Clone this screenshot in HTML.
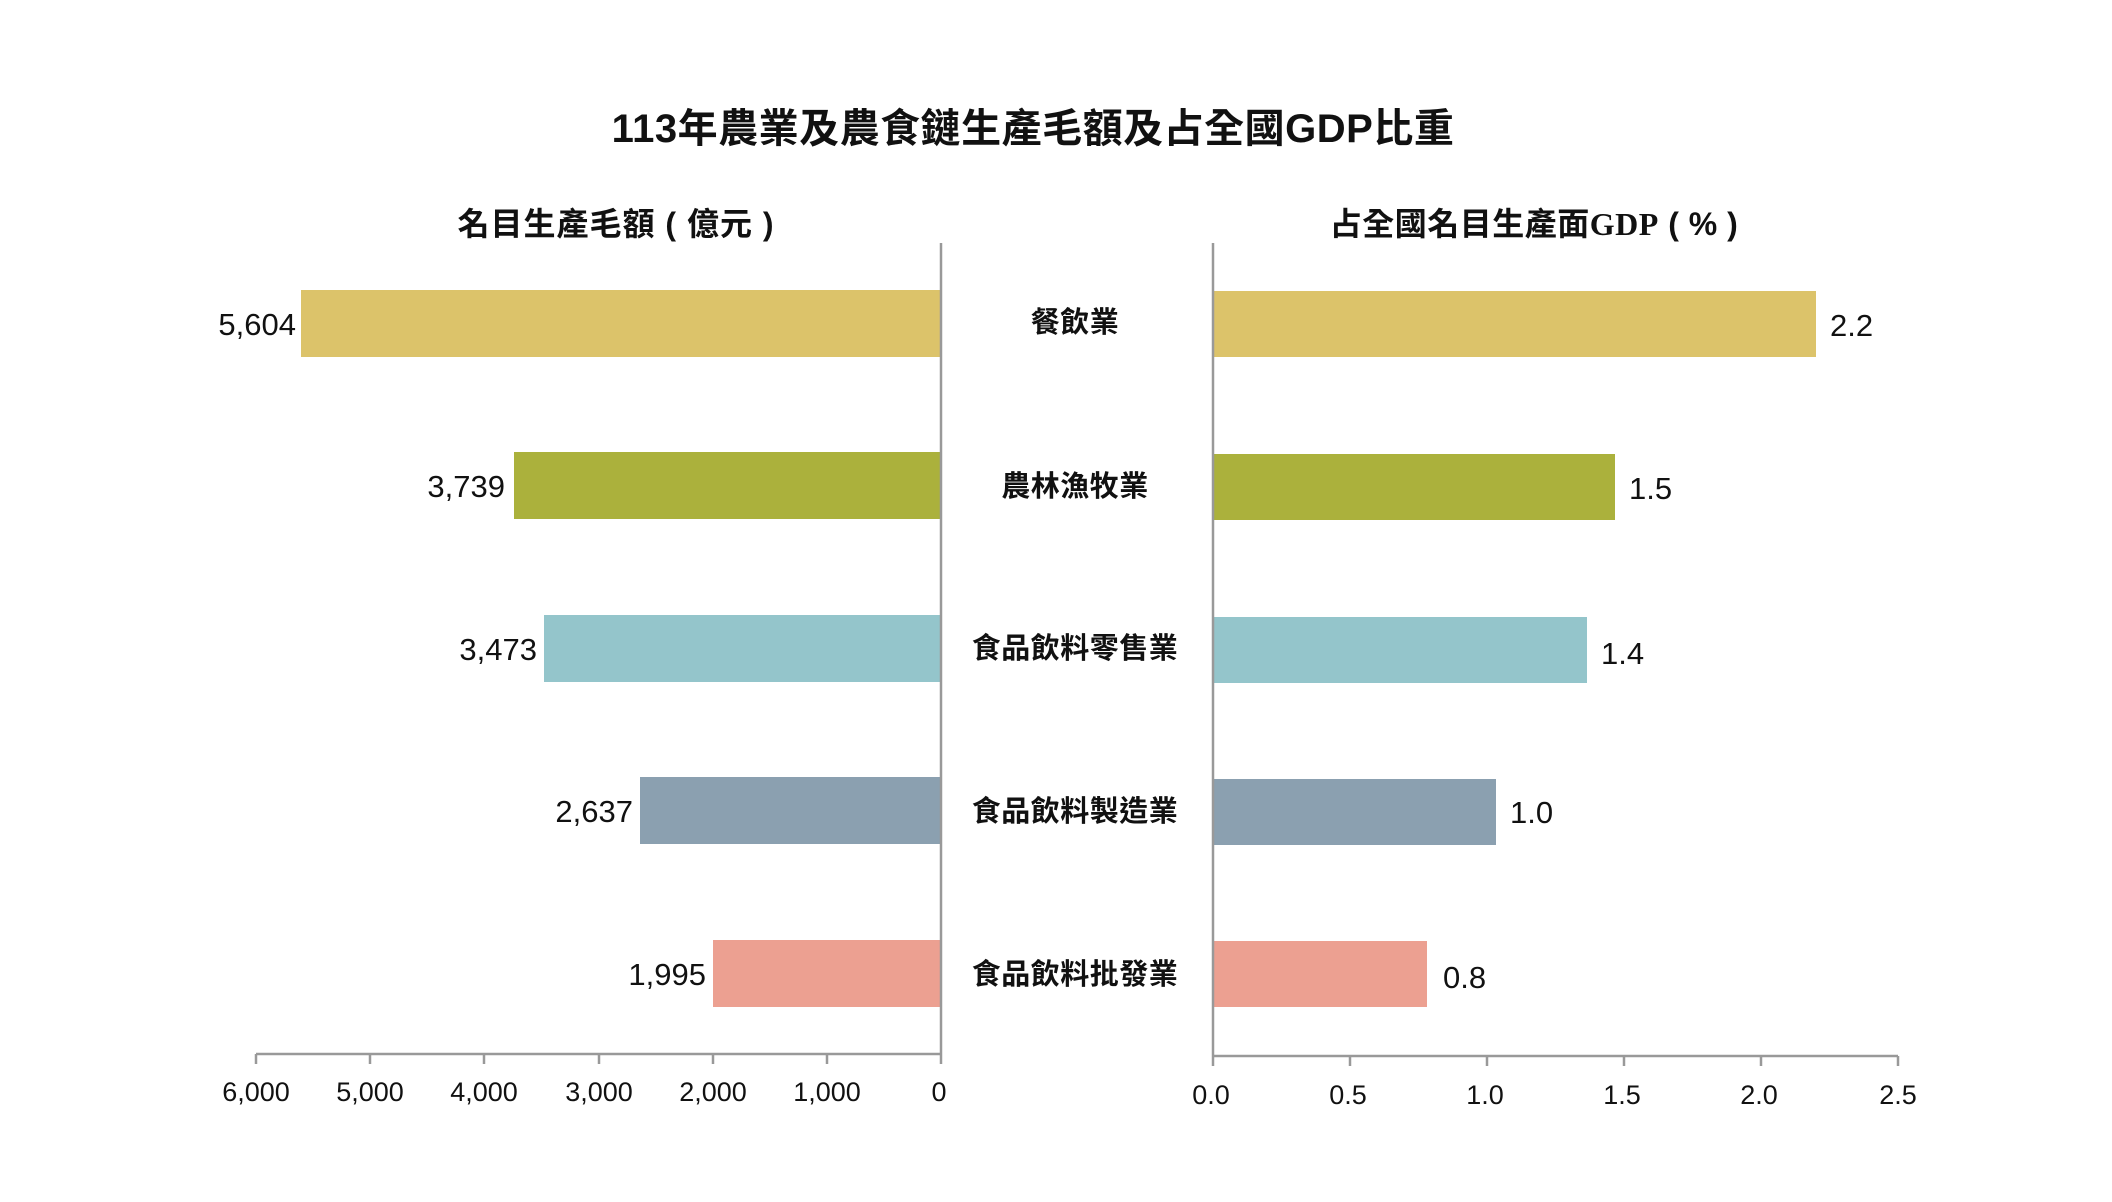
<!DOCTYPE html>
<html><head><meta charset="utf-8"><style>
html,body{margin:0;padding:0;background:#fff;}
svg text{font-family:"Liberation Sans","Noto Sans CJK TC",sans-serif;fill:#111;}
</style></head><body>
<svg width="2112" height="1197" viewBox="0 0 2112 1197" xmlns="http://www.w3.org/2000/svg">
<text x="1033" y="142" font-size="40" font-weight="bold" text-anchor="middle" letter-spacing="0.5">113年農業及農食鏈生產毛額及占全國GDP比重</text>
<text x="616" y="235" font-size="32" font-weight="bold" text-anchor="middle" letter-spacing="1">名目生產毛額 ( 億元 )</text>
<text x="1534" y="235" font-size="32" font-weight="bold" text-anchor="middle" letter-spacing="0.5">占全國名目生產面<tspan font-family="Liberation Serif, serif">GDP</tspan> ( % )</text>
<!-- left bars -->
<rect x="301" y="290" width="640" height="67" fill="#dcc36a"/>
<rect x="514" y="452" width="427" height="67" fill="#abb13c"/>
<rect x="544" y="615" width="397" height="67" fill="#94c5cb"/>
<rect x="640" y="777" width="301" height="67" fill="#8ba0b0"/>
<rect x="713" y="940" width="228" height="67" fill="#eca091"/>
<g font-size="31" text-anchor="end">
<text x="296" y="335">5,604</text>
<text x="505" y="497">3,739</text>
<text x="537" y="660">3,473</text>
<text x="633" y="822">2,637</text>
<text x="706" y="985">1,995</text>
</g>
<!-- right bars -->
<rect x="1213" y="291" width="603" height="66" fill="#dcc36a"/>
<rect x="1213" y="454" width="402" height="66" fill="#abb13c"/>
<rect x="1213" y="617" width="374" height="66" fill="#94c5cb"/>
<rect x="1213" y="779" width="283" height="66" fill="#8ba0b0"/>
<rect x="1213" y="941" width="214" height="66" fill="#eca091"/>
<g font-size="31">
<text x="1830" y="336">2.2</text>
<text x="1629" y="499">1.5</text>
<text x="1601" y="664">1.4</text>
<text x="1510" y="823">1.0</text>
<text x="1443" y="988">0.8</text>
</g>
<!-- categories -->
<g font-size="29" font-weight="bold" text-anchor="middle" letter-spacing="0.5">
<text x="1075" y="332">餐飲業</text>
<text x="1075" y="496">農林漁牧業</text>
<text x="1075" y="658">食品飲料零售業</text>
<text x="1075" y="821">食品飲料製造業</text>
<text x="1075" y="984">食品飲料批發業</text>
</g>
<!-- axes -->
<g stroke="#999" stroke-width="2.5" fill="none">
<line x1="941" y1="243" x2="941" y2="1064"/>
<line x1="256" y1="1054" x2="941" y2="1054"/>
<line x1="256" y1="1054" x2="256" y2="1064"/><line x1="370" y1="1054" x2="370" y2="1064"/>
<line x1="484" y1="1054" x2="484" y2="1064"/><line x1="599" y1="1054" x2="599" y2="1064"/>
<line x1="713" y1="1054" x2="713" y2="1064"/><line x1="827" y1="1054" x2="827" y2="1064"/>
<line x1="1213" y1="243" x2="1213" y2="1066"/>
<line x1="1213" y1="1056" x2="1898" y2="1056"/>
<line x1="1350" y1="1056" x2="1350" y2="1066"/><line x1="1487" y1="1056" x2="1487" y2="1066"/>
<line x1="1624" y1="1056" x2="1624" y2="1066"/><line x1="1761" y1="1056" x2="1761" y2="1066"/>
<line x1="1898" y1="1056" x2="1898" y2="1066"/>
</g>
<g font-size="27" text-anchor="middle">
<text x="256" y="1101">6,000</text><text x="370" y="1101">5,000</text><text x="484" y="1101">4,000</text>
<text x="599" y="1101">3,000</text><text x="713" y="1101">2,000</text><text x="827" y="1101">1,000</text>
<text x="939" y="1101">0</text>
<text x="1211" y="1104">0.0</text><text x="1348" y="1104">0.5</text><text x="1485" y="1104">1.0</text>
<text x="1622" y="1104">1.5</text><text x="1759" y="1104">2.0</text><text x="1898" y="1104">2.5</text>
</g>
</svg>
</body></html>
